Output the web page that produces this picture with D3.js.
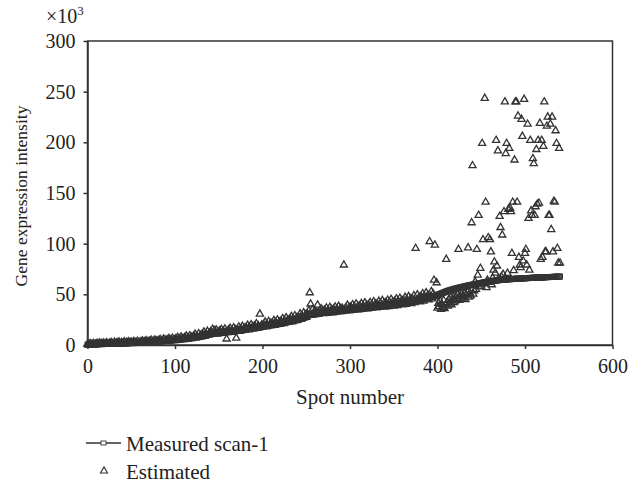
<!DOCTYPE html>
<html><head><meta charset="utf-8">
<script src="https://cdn.jsdelivr.net/npm/d3@7"></script>
<style>body{margin:0;background:#fff}svg{display:block}</style>
</head><body><svg id="c" width="641" height="484"></svg>
<script>
// values in units of 10^3
const xTicks = [0,100,200,300,400,500,600];
const yTicks = [0,50,100,150,200,250,300];
const seriesNames = ["Measured scan-1","Estimated"];
const measured = [
0.3,0.4,0.5,0.5,0.6,0.6,0.7,0.7,0.8,0.8,
0.8,0.9,0.9,0.9,1.0,1.0,1.0,1.1,1.1,1.1,
1.2,1.2,1.2,1.2,1.3,1.3,1.3,1.3,1.4,1.4,
1.4,1.4,1.5,1.5,1.5,1.5,1.6,1.6,1.6,1.7,
1.7,1.7,1.8,1.8,1.8,1.9,1.9,1.9,2.0,2.0,
2.0,2.1,2.1,2.2,2.2,2.2,2.3,2.3,2.4,2.4,
2.5,2.5,2.6,2.6,2.7,2.7,2.8,2.8,2.9,3.0,
3.0,3.1,3.1,3.2,3.3,3.3,3.4,3.5,3.5,3.6,
3.7,3.7,3.8,3.9,3.9,4.0,4.1,4.2,4.2,4.3,
4.4,4.5,4.5,4.6,4.7,4.8,4.9,4.9,5.0,5.1,
5.2,5.3,5.4,5.5,5.6,5.7,5.8,5.9,6.0,6.1,
6.2,6.3,6.4,6.5,6.6,6.7,6.9,7.0,7.1,7.2,
7.4,7.5,7.6,7.8,7.9,8.1,8.2,8.4,8.5,8.7,
8.9,9.1,9.3,9.5,9.7,9.9,10.1,10.3,10.5,10.7,
10.9,11.0,11.2,11.3,11.4,11.5,11.6,11.7,11.8,11.9,
12.0,12.1,12.2,12.3,12.4,12.5,12.6,12.7,12.8,12.9,
13.0,13.1,13.2,13.3,13.4,13.5,13.6,13.7,13.8,13.9,
14.0,14.2,14.3,14.5,14.6,14.8,14.9,15.1,15.2,15.4,
15.5,15.7,15.8,16.0,16.1,16.3,16.4,16.6,16.7,16.9,
17.0,17.2,17.3,17.5,17.6,17.8,17.9,18.1,18.2,18.4,
18.5,18.7,18.8,19.0,19.1,19.3,19.4,19.6,19.7,19.9,
20.0,20.2,20.3,20.5,20.6,20.8,20.9,21.1,21.2,21.4,
21.5,21.7,21.9,22.1,22.3,22.5,22.7,22.9,23.1,23.3,
23.5,23.7,23.9,24.1,24.3,24.5,24.7,24.9,25.1,25.3,
25.5,25.8,26.1,26.4,26.7,27.0,27.3,27.6,27.9,28.2,
28.5,28.8,29.1,29.4,29.7,30.0,30.3,30.6,30.8,31.0,
31.2,31.3,31.4,31.5,31.6,31.7,31.8,31.9,32.0,32.1,
32.2,32.3,32.4,32.5,32.6,32.7,32.8,32.9,33.0,33.1,
33.2,33.3,33.4,33.5,33.6,33.7,33.8,33.9,34.0,34.1,
34.2,34.3,34.4,34.5,34.6,34.7,34.8,34.9,35.0,35.1,
35.2,35.3,35.4,35.5,35.6,35.7,35.8,35.9,36.0,36.1,
36.2,36.3,36.4,36.5,36.6,36.7,36.8,36.9,37.0,37.1,
37.2,37.3,37.4,37.5,37.6,37.7,37.8,37.9,38.0,38.1,
38.2,38.3,38.4,38.5,38.6,38.7,38.8,38.9,39.0,39.1,
39.2,39.3,39.4,39.5,39.6,39.7,39.8,39.9,40.0,40.1,
40.2,40.3,40.5,40.6,40.7,40.8,41.0,41.1,41.2,41.3,
41.5,41.6,41.8,41.9,42.1,42.2,42.4,42.5,42.7,42.8,
43.0,43.2,43.3,43.5,43.7,43.8,44.0,44.2,44.3,44.5,
44.7,44.9,45.1,45.3,45.5,45.7,45.9,46.1,46.3,46.5,
46.7,46.9,47.2,47.4,47.7,47.9,48.2,48.4,48.7,49.0,
49.3,49.6,50.0,50.3,50.7,51.0,51.4,51.7,52.1,52.4,
52.8,53.1,53.4,53.7,53.9,54.2,54.5,54.7,55.0,55.3,
55.5,55.7,55.9,56.1,56.3,56.6,56.8,57.0,57.2,57.4,
57.6,57.8,58.0,58.2,58.4,58.6,58.8,59.0,59.2,59.3,
59.5,59.7,59.9,60.0,60.2,60.4,60.5,60.7,60.9,61.0,
61.2,61.4,61.5,61.7,61.8,62.0,62.1,62.3,62.5,62.6,
62.8,62.9,63.0,63.2,63.3,63.4,63.5,63.6,63.8,63.9,
64.0,64.1,64.2,64.2,64.3,64.4,64.5,64.6,64.6,64.7,
64.8,64.9,64.9,65.0,65.0,65.1,65.2,65.2,65.3,65.3,
65.4,65.4,65.5,65.5,65.6,65.6,65.7,65.7,65.8,65.8,
65.9,65.9,66.0,66.0,66.1,66.1,66.2,66.2,66.3,66.3,
66.3,66.4,66.4,66.5,66.5,66.6,66.6,66.6,66.7,66.7,
66.7,66.8,66.8,66.9,66.9,67.0,67.0,67.0,67.1,67.1,
67.1,67.2,67.2,67.3,67.3,67.3,67.4,67.4,67.4,67.5,
67.5];
const estimated = [
0.8,0.2,0.6,1.4,0.2,0.9,0.5,1.6,0.3,0.9,
0.6,1.8,0.4,1.1,2.0,0.5,1.2,0.8,2.1,0.6,
1.5,0.7,2.3,1.0,0.6,1.9,1.3,2.6,0.8,1.6,
1.1,2.8,0.9,1.7,2.2,1.0,3.0,1.4,1.2,2.5,
1.3,2.1,3.2,1.2,1.9,2.7,1.5,3.4,1.6,2.4,
2.9,1.5,2.3,3.6,1.7,2.6,1.9,3.8,2.1,2.8,
1.9,3.4,2.7,4.1,2.0,3.2,2.5,4.3,2.6,3.5,
2.4,4.0,3.3,4.8,2.6,3.8,3.0,5.0,3.1,4.1,
3.0,4.6,3.9,5.6,3.2,4.4,3.6,5.9,3.7,4.8,
3.7,5.3,4.6,6.5,3.9,5.1,4.3,6.8,4.4,5.6,
4.5,6.3,5.5,7.6,4.7,6.1,5.1,8.0,5.4,6.6,
5.4,7.4,6.5,8.9,5.6,7.2,6.2,9.3,6.4,7.8,
6.5,8.8,7.8,10.6,6.8,8.7,7.6,11.2,7.8,9.4,
8.0,10.8,9.6,12.9,8.5,10.9,9.6,13.6,9.9,11.8,
10.2,13.4,12.0,15.6,10.8,14.2,11.2,15.0,10.9,13.1,
11.2,14.0,12.6,15.4,11.5,13.8,12.0,15.8,12.3,6.0,
12.2,14.9,13.5,16.6,12.5,14.7,13.0,17.0,13.2,15.1,
6.9,15.4,14.5,17.9,13.6,15.9,14.3,18.5,14.5,16.6,
14.6,17.3,16.0,19.5,15.0,17.6,15.7,20.1,16.0,18.3,
16.1,18.8,17.6,21.1,16.5,19.2,17.1,30.6,17.5,19.8,
17.6,20.4,19.1,22.7,17.9,20.7,18.6,23.3,19.0,21.4,
19.1,21.9,20.6,24.2,19.4,22.3,20.1,24.8,20.4,22.9,
20.5,23.5,22.3,26.1,21.1,24.2,21.8,26.9,22.3,24.9,
22.4,25.6,24.3,28.2,23.0,26.3,23.8,29.0,24.2,27.0,
24.3,27.8,26.6,30.8,25.4,29.0,26.4,31.9,27.1,29.9,
27.3,30.8,29.6,33.9,51.6,40.5,29.4,34.8,29.9,32.9,
30.0,33.2,31.9,39.5,30.4,33.5,31.2,35.9,31.3,34.1,
31.0,34.3,32.8,36.6,31.3,34.6,32.0,37.2,32.1,35.1,
31.9,35.3,33.8,37.6,32.4,35.6,33.0,38.3,33.1,36.1,
32.9,36.4,34.8,79.0,33.4,36.7,34.0,39.3,34.1,37.2,
33.9,37.5,35.9,39.9,34.4,37.8,35.0,40.6,35.1,38.3,
34.8,38.6,36.9,41.0,35.3,38.9,36.0,41.7,36.1,39.4,
35.7,39.7,37.9,42.1,36.2,40.0,37.0,42.8,37.1,40.5,
36.6,40.8,38.9,43.2,37.1,41.1,38.0,43.9,38.1,41.6,
37.5,41.9,39.9,44.3,38.0,42.2,39.0,45.0,39.1,42.7,
38.4,43.0,41.0,45.6,38.9,43.4,40.2,46.3,40.3,44.0,
39.6,44.4,42.4,47.1,40.2,44.9,41.6,47.9,41.8,45.5,
41.0,46.0,44.0,48.8,41.8,95.4,43.2,49.6,43.5,47.3,
42.6,47.8,45.8,50.7,43.5,48.5,45.1,51.6,45.4,49.3,
44.5,102.0,47.9,52.8,45.5,50.6,64.0,98.7,47.5,61.5,
36.5,41.2,38.0,43.5,35.2,40.1,37.3,44.0,36.0,39.4,
84.6,42.0,38.5,45.2,40.3,46.8,39.6,44.1,47.5,41.8,
43.4,48.2,45.0,49.6,94.4,44.2,47.8,50.5,45.6,48.9,
46.3,50.9,44.8,49.5,52.0,96.0,47.4,51.3,48.6,120.7,
177.0,50.2,53.6,62.5,55.0,94.4,69.0,128.0,57.5,75.7,
58.2,199.0,104.0,60.4,243.5,141.0,56.7,63.9,106.0,61.8,
104.0,92.0,59.5,66.2,74.0,82.0,71.0,202.0,78.0,191.7,
65.8,127.0,116.0,67.5,108.6,69.8,131.6,240.0,189.0,199.0,
70.8,134.0,194.0,135.0,131.6,90.5,141.0,73.5,182.6,240.0,
240.0,141.0,226.0,86.6,79.0,76.5,222.8,206.0,83.0,242.5,
90.5,94.4,79.0,218.0,125.0,74.0,202.0,132.5,128.0,184.0,
179.0,128.0,136.5,193.0,139.0,202.0,140.0,218.8,84.6,202.0,
86.6,196.0,240.0,92.0,92.0,216.0,225.0,128.0,128.0,218.0,
114.0,225.0,92.0,142.0,141.0,211.5,199.0,95.4,81.0,194.0,
81.0];

const ink = "#333";
const font = "'Liberation Serif', 'Times New Roman', serif";
const svg = d3.select("#c");
const x = d3.scaleLinear().domain([0,600]).range([87.5,612.5]);
const y = d3.scaleLinear().domain([0,300]).range([345,41]);

const mData = measured.map((v,i)=>({s:i, v}));
const eData = estimated.map((v,i)=>({s:i, v}));

// estimated triangles
const tri = d3.symbol().type(d3.symbolTriangle).size(22);
svg.append("g").selectAll("path").data(eData).join("path")
  .attr("d", tri)
  .attr("transform", d=>`translate(${x(d.s)},${y(d.v)})`)
  .attr("fill","none").attr("stroke",ink).attr("stroke-width",1.3);

// measured line + square markers
svg.append("path").datum(mData)
  .attr("d", d3.line().x(d=>x(d.s)).y(d=>y(d.v)))
  .attr("fill","none").attr("stroke",ink).attr("stroke-width",1.8);
svg.append("g").selectAll("rect").data(mData).join("rect")
  .attr("x", d=>x(d.s)-2.5).attr("y", d=>y(d.v)-2.5)
  .attr("width",5).attr("height",5)
  .attr("fill","none").attr("stroke",ink).attr("stroke-width",1);

// axes
const xa = svg.append("g").attr("transform",`translate(0,${y(0)})`)
  .call(d3.axisBottom(x).tickValues(xTicks).tickSize(4).tickSizeOuter(0).tickPadding(10));
const ya = svg.append("g").attr("transform",`translate(${x(0)},0)`)
  .call(d3.axisLeft(y).tickValues(yTicks).tickSize(4).tickSizeOuter(0).tickPadding(8));
[xa,ya].forEach(a=>{
  a.selectAll("path,line").attr("stroke",ink).attr("stroke-width",1.5);
  a.selectAll("text").attr("font-family",font).attr("font-size",20).attr("fill","#222");
});
// frame
svg.append("rect").attr("x",x(0)).attr("y",y(300))
  .attr("width",x(600)-x(0)).attr("height",y(0)-y(300))
  .attr("fill","none").attr("stroke",ink).attr("stroke-width",1.5);

// titles
svg.append("text").attr("x",(x(0)+x(600))/2).attr("y",404)
  .attr("text-anchor","middle").attr("font-family",font).attr("font-size",21).attr("fill","#222")
  .text("Spot number");
svg.append("text").attr("transform",`translate(27,${(y(0)+y(300))/2+3}) rotate(-90)`)
  .attr("text-anchor","middle").attr("font-family",font).attr("font-size",17.5).attr("fill","#222")
  .text("Gene expression intensity");
const mult = svg.append("text").attr("x",46).attr("y",23)
  .attr("font-family",font).attr("font-size",20).attr("fill","#222");
mult.append("tspan").text("×10");
mult.append("tspan").attr("font-size",13).attr("dy",-8).text("3");

// legend
const lg = svg.append("g");
lg.append("line").attr("x1",86).attr("x2",121).attr("y1",443).attr("y2",443)
  .attr("stroke",ink).attr("stroke-width",1.6);
lg.append("rect").attr("x",101).attr("y",441).attr("width",5).attr("height",4)
  .attr("fill","#fff").attr("stroke",ink).attr("stroke-width",0.9);
lg.append("text").attr("x",126).attr("y",451).attr("font-family",font).attr("font-size",21).attr("fill","#222")
  .text(seriesNames[0]);
lg.append("path").attr("d",tri).attr("transform","translate(104,471)")
  .attr("fill","none").attr("stroke",ink).attr("stroke-width",1.1);
lg.append("text").attr("x",126).attr("y",479).attr("font-family",font).attr("font-size",21).attr("fill","#222")
  .text(seriesNames[1]);
</script></body></html>
